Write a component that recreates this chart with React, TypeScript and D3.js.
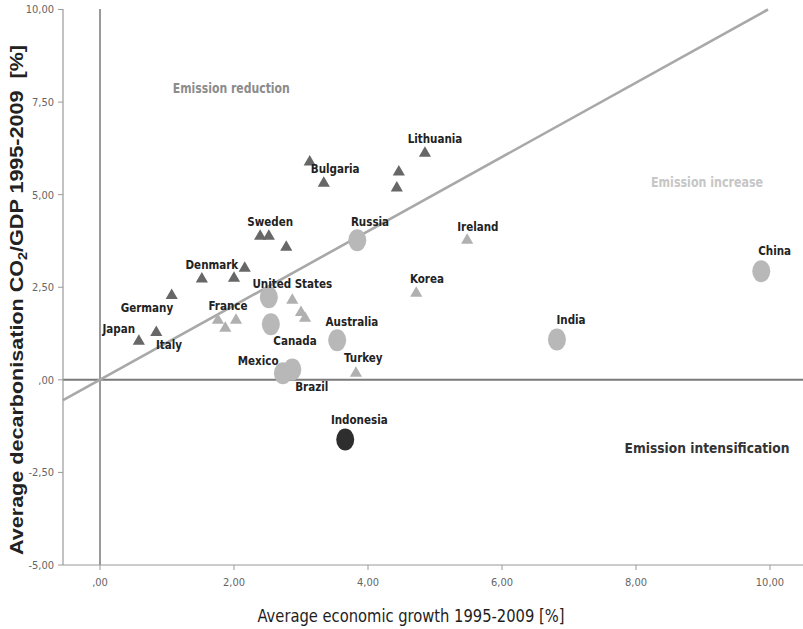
import React from "react";
import * as d3 from "d3";

// ---- data ----
const darkTriangles: [number, number][] = [
  [0.58, 1.04], [0.84, 1.28], [1.07, 2.28], [1.52, 2.72], [2.0, 2.74], [2.16, 3.01],
  [2.39, 3.88], [2.52, 3.88], [2.78, 3.58], [3.13, 5.88], [3.34, 5.31],
  [4.85, 6.12], [4.46, 5.61], [4.43, 5.18],
];
const lightTriangles: [number, number][] = [
  [1.76, 1.61], [1.87, 1.39], [2.03, 1.61], [2.87, 2.15], [3.0, 1.82], [3.06, 1.66],
  [5.48, 3.77], [4.72, 2.34], [3.82, 0.18],
];
const lightCircles: [number, number][] = [
  [3.84, 3.77], [2.52, 2.23], [2.55, 1.5], [3.54, 1.07], [2.73, 0.18], [2.87, 0.28],
  [6.82, 1.09], [9.87, 2.93],
];
const darkCircles: [number, number][] = [[3.66, -1.61]];

const countryLabels: { name: string; x: number; y: number }[] = [
  { name: "Japan", x: 0.28, y: 1.36 },
  { name: "Italy", x: 1.03, y: 0.93 },
  { name: "Germany", x: 0.7, y: 1.93 },
  { name: "Denmark", x: 1.67, y: 3.09 },
  { name: "France", x: 1.91, y: 1.99 },
  { name: "Sweden", x: 2.54, y: 4.26 },
  { name: "Bulgaria", x: 3.51, y: 5.69 },
  { name: "Russia", x: 4.03, y: 4.26 },
  { name: "Lithuania", x: 5.0, y: 6.5 },
  { name: "Ireland", x: 5.64, y: 4.12 },
  { name: "Korea", x: 4.88, y: 2.72 },
  { name: "United States", x: 2.87, y: 2.58 },
  { name: "Canada", x: 2.91, y: 1.04 },
  { name: "Australia", x: 3.76, y: 1.55 },
  { name: "Mexico", x: 2.36, y: 0.5 },
  { name: "Brazil", x: 3.16, y: -0.2 },
  { name: "Turkey", x: 3.93, y: 0.58 },
  { name: "India", x: 7.03, y: 1.61 },
  { name: "China", x: 10.07, y: 3.47 },
  { name: "Indonesia", x: 3.87, y: -1.09 },
];

const quadrantLabels: { text: string; x: number; y: number; tone: string }[] = [
  { text: "Emission reduction", x: 1.96, y: 7.88, tone: "mid" },
  { text: "Emission increase", x: 9.06, y: 5.34, tone: "light" },
  { text: "Emission intensification", x: 9.06, y: -1.85, tone: "dark" },
];

const xTicks = [0, 2, 4, 6, 8, 10];
const yTicks = [-5, -2.5, 0, 2.5, 5, 7.5, 10];
const fitLine: [number, number][] = [[-0.55, -0.55], [9.97, 10.0]];

const fmt = (v: number) => {
  const s = d3.format(".2f")(Math.abs(v)).replace(".", ",");
  const t = s.startsWith("0") ? s.slice(1) : s;
  return (v < 0 ? "-" : "") + t;
};

const NARROW = "'Liberation Sans Narrow', 'DejaVu Sans Condensed', 'Liberation Sans', sans-serif";

export default function App() {
  const W = 803, H = 629;
  const left = 63, right = 803, top = 9, bottom = 565;
  const x = d3.scaleLinear().domain([0, 10]).range([100, 770]);
  const y = d3.scaleLinear().domain([-5, 10]).range([bottom, top + 0.5]);
  const tri = d3.symbol(d3.symbolTriangle, 64)() as string;
  const line = d3.line<[number, number]>().x(d => x(d[0])).y(d => y(d[1]));
  const toneColor: Record<string, string> = { mid: "#8c8c8c", light: "#c6c6c6", dark: "#333333" };
  const qWidth: Record<string, number> = { mid: 117, light: 112, dark: 165 };

  return (
    <svg width={W} height={H} style={{ position: "absolute", left: 0, top: 0, background: "#fff" }}
      fontFamily="'Liberation Sans', Arial, sans-serif">
      <rect x={0} y={0} width={W} height={H} fill="#fff" />
      {/* reference lines */}
      <line x1={x(0)} x2={x(0)} y1={top} y2={bottom} stroke="#808080" strokeWidth={1.6} />
      <line x1={left} x2={right} y1={y(0)} y2={y(0)} stroke="#7a7a7a" strokeWidth={2} />
      <path d={line(fitLine) || ""} stroke="#a8a8a8" strokeWidth={2.6} fill="none" />

      {/* axes */}
      <line x1={left} x2={left} y1={top} y2={bottom} stroke="#999" strokeWidth={1.2} />
      <line x1={left} x2={right} y1={bottom} y2={bottom} stroke="#999" strokeWidth={1.2} />
      {yTicks.map(t => (
        <g key={"y" + t}>
          <line x1={left - 5} x2={left} y1={y(t)} y2={y(t)} stroke="#999" />
          <text x={left - 9} y={y(t)} dy="0.35em" textAnchor="end" fontSize={11}
            fontFamily={NARROW} fill="#666">{fmt(t)}</text>
        </g>
      ))}
      {xTicks.map(t => (
        <g key={"x" + t}>
          <line x1={x(t)} x2={x(t)} y1={bottom} y2={bottom + 5} stroke="#999" />
          <text x={x(t)} y={bottom + 21} textAnchor="middle" fontSize={11}
            fontFamily={NARROW} fill="#666">{fmt(t)}</text>
        </g>
      ))}

      {/* markers */}
      {lightCircles.map((d, i) => (
        <ellipse key={"lc" + i} cx={x(d[0])} cy={y(d[1])} rx={9} ry={11} fill="#b8b8b8" />
      ))}
      {darkCircles.map((d, i) => (
        <ellipse key={"dc" + i} cx={x(d[0])} cy={y(d[1])} rx={9} ry={11} fill="#2e2e2e" />
      ))}
      {lightTriangles.map((d, i) => (
        <path key={"lt" + i} d={tri} transform={`translate(${x(d[0])},${y(d[1])})`} fill="#b0b0b0" />
      ))}
      {darkTriangles.map((d, i) => (
        <path key={"dt" + i} d={tri} transform={`translate(${x(d[0])},${y(d[1])})`} fill="#676767" />
      ))}

      {/* labels */}
      {countryLabels.map(l => (
        <text key={l.name} x={x(l.x)} y={y(l.y)} dy="0.35em" textAnchor="middle" fontSize={11.5}
          fontWeight="bold" fontFamily={NARROW} fill="#222">{l.name}</text>
      ))}
      {quadrantLabels.map(q => (
        <text key={q.text} x={x(q.x)} y={y(q.y)} dy="0.35em" textAnchor="middle" fontSize={13.5}
          fontWeight="bold" fontFamily={NARROW} fill={toneColor[q.tone]}
          textLength={qWidth[q.tone]} lengthAdjust="spacingAndGlyphs">{q.text}</text>
      ))}

      {/* axis titles */}
      <text x={411} y={622} textAnchor="middle" fontSize={17} fontFamily={NARROW} fill="#1e1e1e"
        textLength={307} lengthAdjust="spacingAndGlyphs">Average economic growth 1995-2009 [%]</text>
      <text transform="translate(23,300) rotate(-90)" textAnchor="middle" fontSize={18}
        fontWeight="bold" fill="#222" style={{ whiteSpace: "pre" }}
        textLength={510} lengthAdjust="spacingAndGlyphs">
        <tspan>Average decarbonisation CO</tspan>
        <tspan fontSize={12} dy={4}>2</tspan>
        <tspan dy={-4}>/GDP 1995-2009  [%]</tspan>
      </text>
    </svg>
  );
}
